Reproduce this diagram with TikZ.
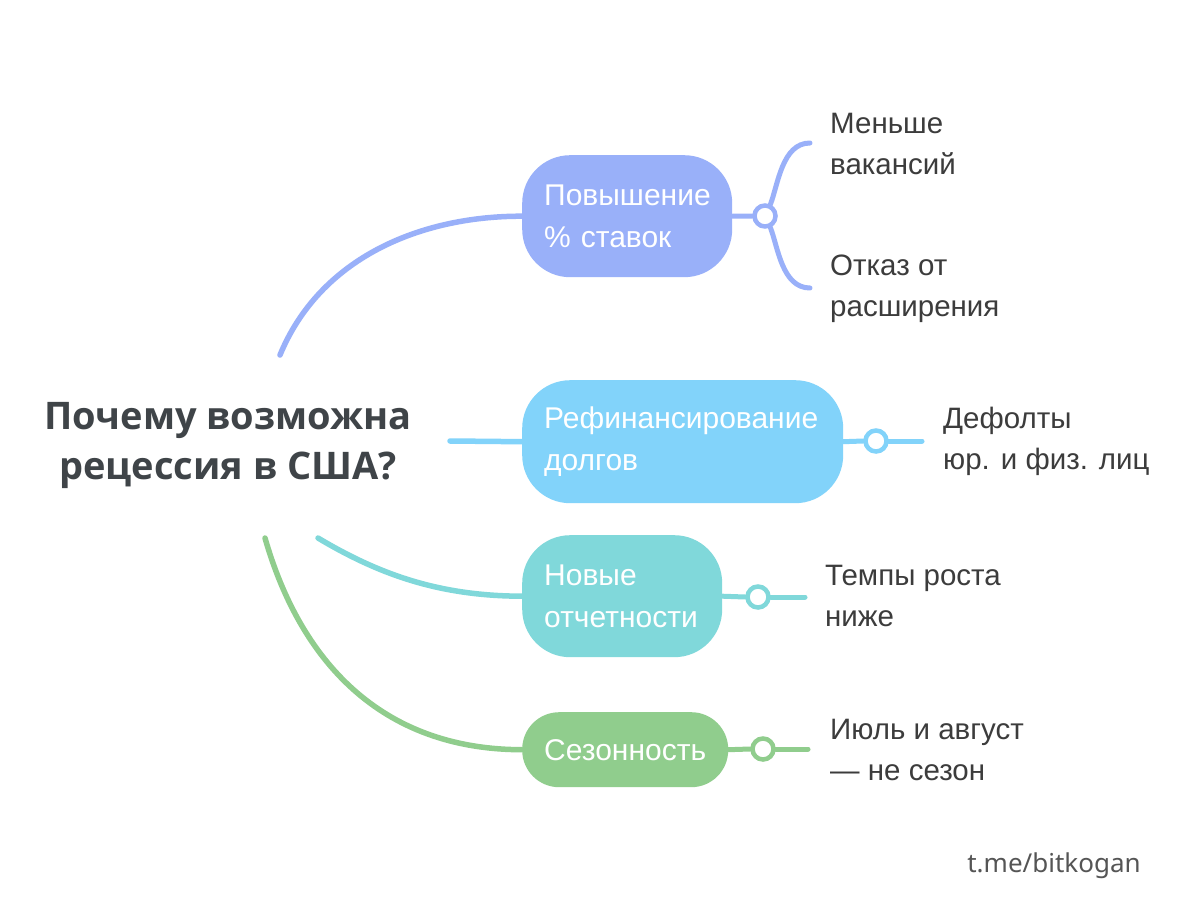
\documentclass[tikz,border=0pt]{standalone}
\usepackage{fontspec}
\setmainfont{Liberation Sans}
\newfontfamily\titlefont{Open Sans}
\newfontfamily\markfont{Noto Sans}
\definecolor{cA}{HTML}{99B0F9}
\definecolor{cB}{HTML}{82D3FA}
\definecolor{cC}{HTML}{80D8DA}
\definecolor{cD}{HTML}{90CD8D}
\definecolor{leafc}{HTML}{3C3C3C}
\definecolor{titlec}{HTML}{3F4448}
\definecolor{markc}{HTML}{555555}
\begin{document}
\begin{tikzpicture}[x=1pt,y=-1pt]
\tikzset{
 pill/.style={rounded corners=48pt, inner xsep=22pt, inner ysep=0pt, align=left, text=white,
   font=\fontsize{30}{42}\selectfont, anchor=north west},
 knob/.style={circle, draw, fill=white, line width=4.5pt, minimum size=21pt, inner sep=0pt},
 branch/.style={line width=5.5pt, line cap=round},
 leaf/.style={align=left, text=leafc, font=\fontsize{29.5}{41}\selectfont, anchor=west, inner sep=0pt},
}
\useasboundingbox[fill=white] (0,0) rectangle (1200,902);

% title
\node[align=center, text=titlec, font=\titlefont\bfseries\fontsize{38}{50}\selectfont, inner sep=0pt] (title) at (228,445) {Почему возможна\\рецессия в США?};

% main pills
\node[pill, fill=cA, minimum width=210pt, minimum height=122pt, text width=166pt] (p1) at (522,155) {Повышение\\\% ставок};
\node[pill, fill=cB, minimum width=321pt, minimum height=123pt, text width=277pt] (p2) at (522,380) {Рефинансирование\\долгов};
\node[pill, fill=cC, minimum width=200pt, minimum height=122pt, text width=156pt] (p3) at (522,535) {Новые\\отчетности};
\node[pill, fill=cD, rounded corners=37pt, minimum width=206pt, minimum height=75pt, text width=162pt] (p4) at (522,712) {Сезонность};

% start points of branches
\coordinate (s1) at (280,355);
\coordinate (s2) at (450,441);
\coordinate (s3) at (318,538);
\coordinate (s4) at (265,538);

\draw[branch, draw=cA] (s1) .. controls (320,258) and (420,216) .. (p1.west);
\draw[branch, draw=cB] (s2) -- (p2.west);
\draw[branch, draw=cC] (s3) .. controls (380,575) and (440,596) .. (p3.west);
\draw[branch, draw=cD] (s4) .. controls (300,660) and (380,749.5) .. (p4.west);

% knobs
\node[knob, draw=cA] (k1) at (765,216) {};
\node[knob, draw=cB] (k2) at (876,441) {};
\node[knob, draw=cC] (k3) at (758,597) {};
\node[knob, draw=cD] (k4) at (763,749) {};

\coordinate (e1a) at (810,143);
\coordinate (e1b) at (810,288);
\coordinate (e2) at (922,441);
\coordinate (e3) at (805,597);
\coordinate (e4) at (808,749);

\draw[branch, line width=5pt, draw=cA] (p1.east) -- (k1.west);
\draw[branch, line width=5pt, draw=cA] (k1.65) .. controls (778,185) and (782,143) .. (e1a);
\draw[branch, line width=5pt, draw=cA] (k1.-65) .. controls (778,247) and (782,288) .. (e1b);
\draw[branch, line width=5pt, draw=cB] (p2.east) -- (k2.west);
\draw[branch, line width=5pt, draw=cB] (k2.east) -- (e2);
\draw[branch, line width=5pt, draw=cC] (p3.east) -- (k3.west);
\draw[branch, line width=5pt, draw=cC] (k3.east) -- (e3);
\draw[branch, line width=5pt, draw=cD] (p4.east) -- (k4.west);
\draw[branch, line width=5pt, draw=cD] (k4.east) -- (e4);

% leaves
\node[leaf] (l1) at (830,144) {Меньше\\вакансий};
\node[leaf] (l2) at (830,289) {Отказ от\\расширения};
\node[leaf] (l3) at (943,441) {Дефолты\\юр. и физ. лиц};
\node[leaf] (l4) at (825,596) {Темпы роста\\ниже};
\node[leaf] (l5) at (830,750) {Июль и август\\— не сезон};

% watermark
\node[text=markc, font=\markfont\bfseries\fontsize{26}{30}\selectfont, inner sep=0pt] (mark) at (1054,866) {t.me/bitkogan};
\end{tikzpicture}
\end{document}
